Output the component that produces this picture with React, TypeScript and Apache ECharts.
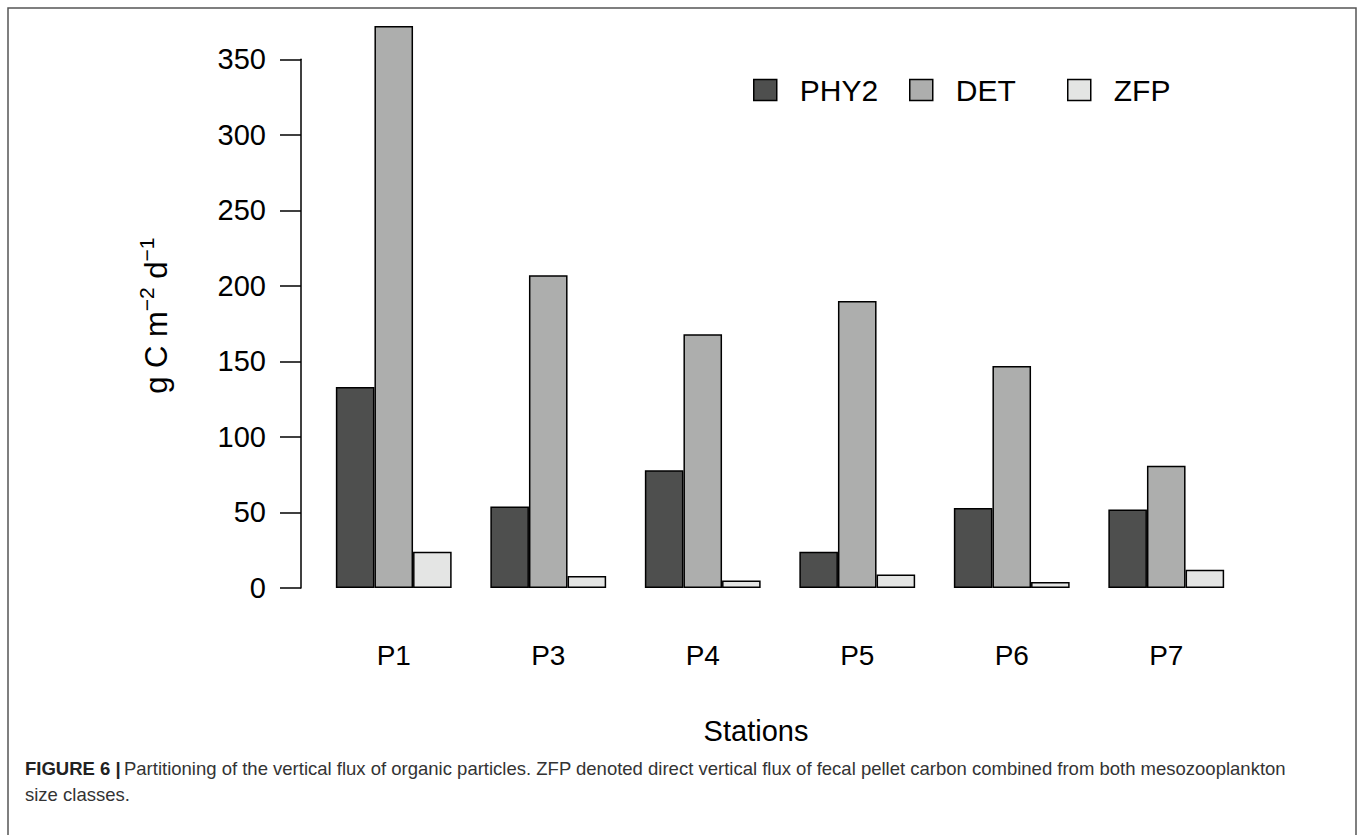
import React, { useEffect, useRef } from "react";
import * as echarts from "echarts";

const categories = ["P1", "P3", "P4", "P5", "P6", "P7"];
const seriesNames = ["PHY2", "DET", "ZFP"];
const phy2 = [133, 54, 78, 24, 53, 52];
const det = [372, 207, 168, 190, 147, 81];
const zfp = [24, 8, 5, 9, 4, 12];
const colors = ["#4e4f4e", "#adaead", "#e4e5e4"];
const yTicks = { min: 0, max: 350, interval: 50 };

const FONT = "'Liberation Sans', Arial, Helvetica, sans-serif";

export default function App() {
  const ref = useRef<HTMLDivElement>(null);
  useEffect(() => {
    document.body.style.margin = "0";
    const chart = echarts.init(ref.current!, undefined, { renderer: "svg" });
    const values = [phy2, det, zfp];
    const legendLefts = [748, 904, 1062];
    chart.setOption({
      animation: false,
      backgroundColor: "#ffffff",
      textStyle: { fontFamily: FONT },
      grid: { left: 316.5, right: 113.5, top: 59.3, bottom: 247, containLabel: false },
      legend: seriesNames.map((n, i) => ({
        data: [n],
        left: legendLefts[i],
        top: 70,
        orient: "horizontal",
        icon: "rect",
        itemWidth: 23,
        itemHeight: 21,
        itemStyle: { borderColor: "#000", borderWidth: 1.5 },
        textStyle: { fontSize: 30, color: "#000", fontFamily: FONT, padding: [0, 0, 0, 18] },
        selectedMode: false,
      })),
      xAxis: {
        type: "category",
        data: categories,
        axisLine: { show: false },
        axisTick: { show: false },
        axisLabel: { fontSize: 28, color: "#000", margin: 53, fontFamily: FONT },
        name: "Stations",
        nameLocation: "middle",
        nameGap: 128,
        nameTextStyle: { fontSize: 29, color: "#000", fontFamily: FONT, padding: [0, 48, 0, 0] },
      },
      yAxis: {
        type: "value",
        min: yTicks.min,
        max: yTicks.max,
        interval: yTicks.interval,
        offset: 15.5,
        axisLine: { show: true, lineStyle: { color: "#000", width: 1.5 } },
        axisTick: { show: true, length: 21, lineStyle: { color: "#000", width: 1.5 } },
        splitLine: { show: false },
        axisLabel: { fontSize: 29, color: "#000", margin: 35, fontFamily: FONT },
        name: "{a|g C m}{s|\u22122}{a| d}{s|\u22121}",
        nameLocation: "middle",
        nameRotate: 90,
        nameGap: 126,
        nameTextStyle: {
          color: "#000",
          fontFamily: FONT,
          padding: [0, 0, 0, 16],
          rich: {
            a: { fontSize: 31, color: "#000", fontFamily: FONT, lineHeight: 38 },
            s: { fontSize: 21, color: "#000", fontFamily: FONT, lineHeight: 38, padding: [0, 0, 20, 0] },
          },
        },
      },
      series: seriesNames.map((n, i) => ({
        name: n,
        type: "bar",
        data: values[i],
        barWidth: 38.6,
        barGap: "0%",
        clip: false,
        itemStyle: { color: colors[i], borderColor: "#000", borderWidth: 1.5 },
      })),
      graphic: [
        {
          type: "rect",
          shape: { x: 8, y: 8, width: 1348, height: 1000 },
          style: { fill: "none", stroke: "#555", lineWidth: 1.5 },
          silent: true,
        },
        {
          type: "text",
          left: 25,
          top: 759,
          style: {
            text: "{b|FIGURE 6 |} {n|Partitioning of the vertical flux of organic particles. ZFP denoted direct vertical flux of fecal pellet carbon combined from both mesozooplankton}\n{n|size classes.}",
            rich: {
              b: { fontSize: 18.5, fontWeight: "bold", fill: "#222", fontFamily: FONT, lineHeight: 26 },
              n: { fontSize: 18.5, fill: "#333", fontFamily: FONT, lineHeight: 26 },
            },
          },
        },
      ],
    });
    return () => chart.dispose();
  }, []);
  return <div ref={ref} style={{ width: 1357, height: 835 }} />;
}
